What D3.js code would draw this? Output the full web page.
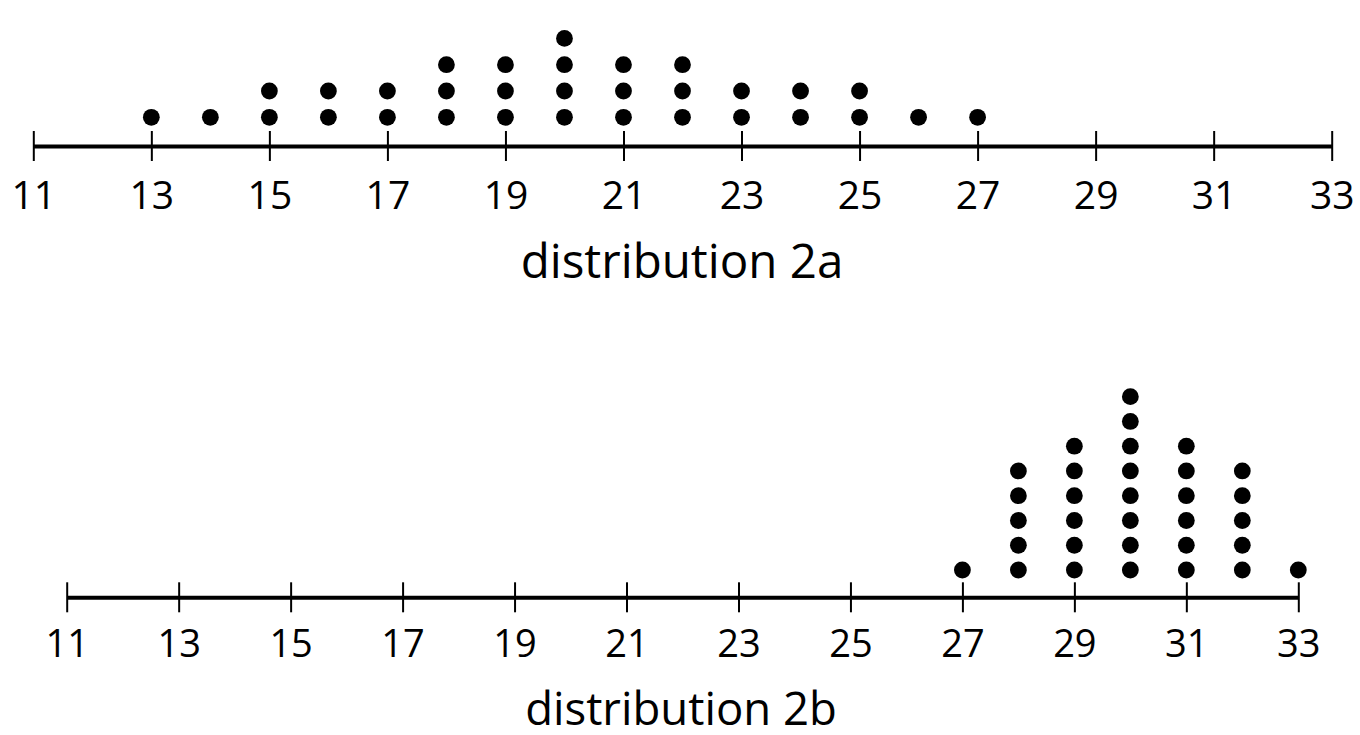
<!DOCTYPE html>
<html>
<head>
<meta charset="utf-8">
<script src="https://cdn.jsdelivr.net/npm/d3@7"></script>
<style>
  body { margin: 0; background: #fff; }
  text { font-family: "Open Sans", sans-serif; fill: #000; }
</style>
</head>
<body>
<div class="canvas"></div>
<script>
// data
const tickValues = [11, 13, 15, 17, 19, 21, 23, 25, 27, 29, 31, 33];

const valuesA = [13, 14, 15, 16, 17, 18, 19, 20, 21, 22, 23, 24, 25, 26, 27];
const countsA = [1, 1, 2, 2, 2, 3, 3, 4, 3, 3, 2, 2, 2, 1, 1];

const valuesB = [27, 28, 29, 30, 31, 32, 33];
const countsB = [1, 5, 6, 8, 6, 5, 1];

const titles = ['distribution 2a', 'distribution 2b'];

const svg = d3.select('.canvas')
    .append('svg')
        .attr('width', 1360)
        .attr('height', 735);

// layout of each number line
const panels = [
    {values: valuesA, counts: countsA, title: titles[0],
     x0: 33.3, x1: 1331.7, axisY: 146, firstDot: 28.7, step: 26.3,
     tickFont: 39, labelY: 63, titleFont: 47.5, titleX: 682, titleY: 131.7},
    {values: valuesB, counts: countsB, title: titles[1],
     x0: 66.7, x1: 1298.3, axisY: 597.3, firstDot: 27.3, step: 24.76,
     tickFont: 38, labelY: 59.7, titleFont: 45.5, titleX: 681, titleY: 127.7}
];

panels.forEach(p => {
    const x = d3.scaleLinear()
        .domain([11, 33])
        .range([p.x0, p.x1]);

    // stack position -> vertical offset above the axis
    const y = d3.scaleLinear()
        .domain([0, 1])
        .range([-p.firstDot, -p.firstDot - p.step]);

    const g = svg.append('g')
        .attr('transform', `translate(0, ${p.axisY})`);

    const axis = d3.axisBottom(x)
        .tickValues(tickValues)
        .tickSizeInner(15)
        .tickSizeOuter(0)
        .tickPadding(0);

    const axisGroup = g.append('g').call(axis);

    axisGroup.select('.domain')
        .attr('stroke', '#000')
        .attr('stroke-width', 4);

    axisGroup.selectAll('.tick line')
        .attr('y1', -15)
        .attr('y2', 15)
        .attr('stroke', '#000')
        .attr('stroke-width', 2);

    axisGroup.selectAll('.tick text')
        .attr('y', p.labelY)
        .attr('dy', null)
        .attr('font-family', '"Open Sans", sans-serif')
        .attr('font-size', p.tickFont)
        .attr('fill', '#000');

    // one dot per observation, stacked
    const dots = [];
    p.values.forEach((v, i) => {
        d3.range(p.counts[i]).forEach(k => dots.push({value: v, level: k}));
    });

    g.selectAll('circle')
        .data(dots)
        .enter()
        .append('circle')
            .attr('cx', d => x(d.value))
            .attr('cy', d => y(d.level))
            .attr('r', 8.4)
            .attr('fill', '#000');

    g.append('text')
        .attr('x', p.titleX)
        .attr('y', p.titleY)
        .attr('text-anchor', 'middle')
        .attr('font-size', p.titleFont)
        .text(p.title);
});
</script>
</body>
</html>
